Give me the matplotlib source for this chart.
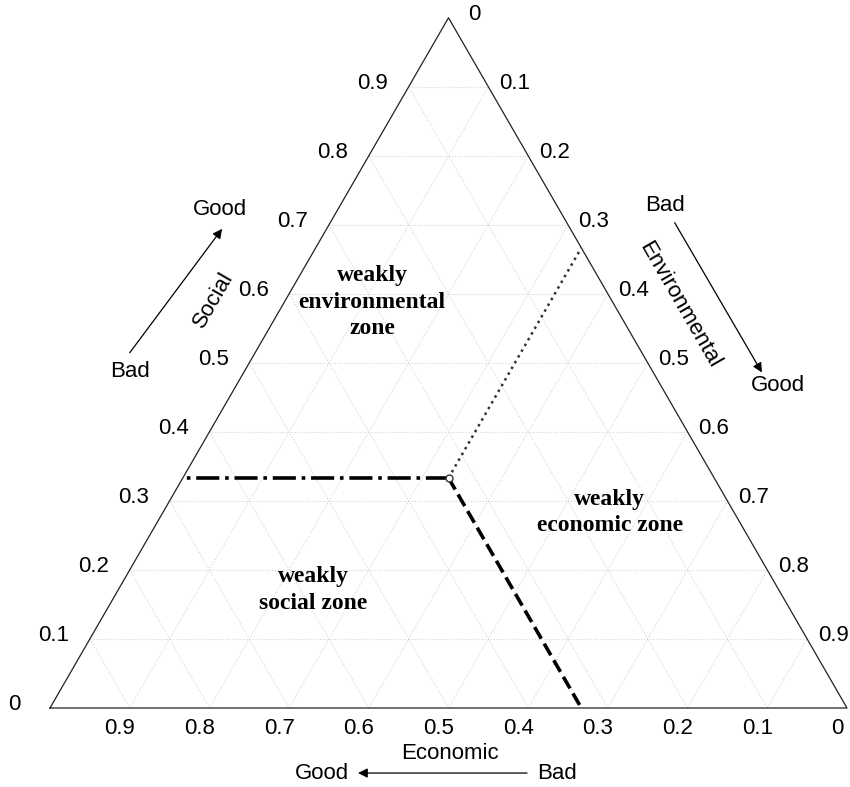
import numpy as np
import matplotlib.pyplot as plt

plt.rcParams['font.family'] = ['Liberation Sans', 'DejaVu Sans']

# ternary data (economic, social, environmental)
grid_vals = [0.1, 0.2, 0.3, 0.4, 0.5, 0.6, 0.7, 0.8, 0.9]
tick_vals = [0.0, 0.1, 0.2, 0.3, 0.4, 0.5, 0.6, 0.7, 0.8, 0.9]
tick_labels = ['0', '0.1', '0.2', '0.3', '0.4', '0.5', '0.6', '0.7', '0.8', '0.9']
center = (1/3, 1/3, 1/3)
# end points of the three zone boundaries
end_social = (2/3, 1/3, 0.0)   # dash-dot, to the left edge
end_econ = (1/3, 0.0, 2/3)     # dashed, to the bottom edge
end_env = (0.0, 2/3, 1/3)      # dotted, to the right edge
zone_names = ['weakly\nenvironmental\nzone', 'weakly\neconomic zone', 'weakly\nsocial zone']
zone_at = [(0.302, 0.588, 0.110), (0.156, 0.283, 0.561), (0.584, 0.171, 0.245)]

H = np.sqrt(3) / 2


def tern(a, s, e):
    # economic a, social s, environmental e  ->  x, y
    return e + s / 2, s * H


def seg(p, q, **kw):
    x0, y0 = tern(*p)
    x1, y1 = tern(*q)
    ax.plot([x0, x1], [y0, y1], **kw)


fig = plt.figure(figsize=(8.5, 7.87), dpi=100)
ax = fig.add_axes([0, 0, 1, 1])
sc = 797.0
ax.set_xlim(-50 / sc, 800 / sc)
ax.set_ylim(-79 / sc, 708 / sc)
ax.axis('off')

# grid
gkw = dict(color='#d4d4d4', lw=0.8, ls=':', zorder=1)
for v in grid_vals:
    seg((1 - v, v, 0), (0, v, 1 - v), **gkw)      # constant social
    seg((v, 1 - v, 0), (v, 0, 1 - v), **gkw)      # constant economic
    seg((1 - v, 0, v), (0, 1 - v, v), **gkw)      # constant environmental

# triangle
xs, ys = zip(*[tern(1, 0, 0), tern(0, 0, 1), tern(0, 1, 0), tern(1, 0, 0)])
ax.plot(xs, ys, color='#222222', lw=0.9, zorder=2)

# zone boundaries
seg(center, end_social, color='k', lw=2.6, ls='-.', zorder=3)
seg(center, end_econ, color='k', lw=2.6, ls='--', zorder=3)
seg(center, end_env, color='#333333', lw=1.8, ls=':', zorder=3)
cx, cy = tern(*center)
ax.plot(cx, cy, 'o', ms=5, mfc='white', mec='#333333', mew=1, zorder=4)

# tick labels
fs = 16
for v, lab in zip(tick_vals, tick_labels):
    # economic on the bottom edge (decreasing to the right)
    ax.annotate(lab, tern(v, 0, 1 - v), xytext=(-10, -21),
                textcoords='offset pixels', ha='center', va='center', fontsize=fs)
    # social on the left edge
    ax.annotate(lab, tern(1 - v, v, 0), xytext=(-36, 3), textcoords='offset pixels',
                ha='center', va='center', fontsize=fs)
    # environmental on the right edge
    ax.annotate(lab, tern(0, 1 - v, v), xytext=(26, 3), textcoords='offset pixels',
                ha='center', va='center', fontsize=fs)

# axis titles
ax.text(0.502, -0.057, 'Economic', ha='center', va='center', fontsize=fs)
ax.text(0.341, -0.0816, 'Good', ha='center', va='center', fontsize=fs)
ax.text(0.636, -0.0816, 'Bad', ha='center', va='center', fontsize=fs)
ax.annotate('', xy=(0.383, -0.0816), xytext=(0.602, -0.0816),
            arrowprops=dict(arrowstyle='-|>', color='k', lw=0.9, mutation_scale=14))

ax.text(0.2045, 0.512, 'Social', rotation=60, ha='center', va='center', fontsize=fs)
ax.text(0.100, 0.4216, 'Bad', ha='center', va='center', fontsize=fs)
ax.text(0.213, 0.625, 'Good', ha='center', va='center', fontsize=fs)
ax.annotate('', xy=(0.218, 0.604), xytext=(0.098, 0.443),
            arrowprops=dict(arrowstyle='-|>', color='k', lw=0.9, mutation_scale=14))

ax.text(0.790, 0.506, 'Environmental', rotation=-60, ha='center', va='center', fontsize=fs)
ax.text(0.772, 0.631, 'Bad', ha='center', va='center', fontsize=fs)
ax.text(0.913, 0.405, 'Good', ha='center', va='center', fontsize=fs)
ax.annotate('', xy=(0.895, 0.418), xytext=(0.782, 0.612),
            arrowprops=dict(arrowstyle='-|>', color='k', lw=0.9, mutation_scale=14))

# zone names
for name, p in zip(zone_names, zone_at):
    ax.text(*tern(*p), name, ha='center', va='center', fontsize=17,
            family='Liberation Serif', fontweight='bold', linespacing=1.35)

fig.savefig('out.png', dpi=100)
